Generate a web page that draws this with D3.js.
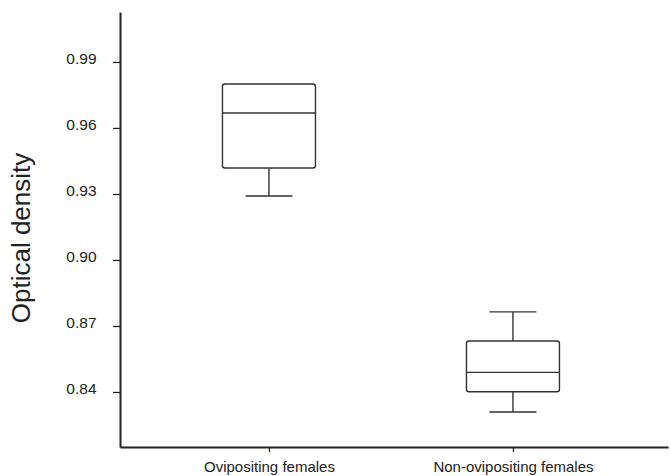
<!DOCTYPE html>
<html>
<head>
<meta charset="utf-8">
<script src="https://cdn.jsdelivr.net/npm/d3@7"></script>
<style>
  body { margin: 0; background: #fff; }
  svg { font-family: "Liberation Sans", Arial, sans-serif; }
</style>
</head>
<body>
<svg width="670" height="476"></svg>
<script>
// data
var groups = ["Ovipositing females", "Non-ovipositing females"];
var whiskerLow = [0.9291, 0.8309];
var q1 = [0.9418, 0.8401];
var medians = [0.9668, 0.8489];
var q3 = [0.9800, 0.8632];
var whiskerHigh = [0.9800, 0.8764];
var yTicks = [0.84, 0.87, 0.90, 0.93, 0.96, 0.99];

var svg = d3.select('svg');

var yScale = d3.scaleLinear()
    .domain([0.815, 1.0127])
    .range([447, 12]);

var xScale = d3.scalePoint()
    .domain(groups)
    .range([120, 668])
    .padding(0.623)
    .align(0.49);

var boxW = 93, capW = 47;

// y axis
var yAxis = d3.axisLeft(yScale)
    .tickValues(yTicks)
    .tickFormat(d3.format('.2f'))
    .tickSizeInner(7)
    .tickSizeOuter(0)
    .tickPadding(16.5);

var gy = svg.append('g')
    .attr('class', 'y axis')
    .attr('transform', 'translate(120,0)')
    .call(yAxis);
gy.select('.domain').attr('stroke', '#222').attr('stroke-width', 2);
gy.selectAll('.tick line').attr('stroke', '#222').attr('stroke-width', 1.3);
gy.selectAll('.tick text')
    .attr('font-size', 15.5)
    .attr('dy', '0.1em')
    .attr('fill', '#222')
    .attr('font-family', '"Liberation Sans", Arial, sans-serif');

// x axis
var xAxis = d3.axisBottom(xScale)
    .tickSizeInner(5)
    .tickSizeOuter(0)
    .tickPadding(9);

var gx = svg.append('g')
    .attr('class', 'x axis')
    .attr('transform', 'translate(0,447)')
    .call(xAxis);
gx.select('.domain').attr('stroke', '#222').attr('stroke-width', 2);
gx.selectAll('.tick line').attr('stroke', '#222').attr('stroke-width', 1.3);
gx.selectAll('.tick text')
    .attr('font-size', 15)
    .attr('fill', '#222')
    .attr('font-family', '"Liberation Sans", Arial, sans-serif');

svg.append('text')
    .attr('class', 'y label')
    .attr('transform', 'translate(30,238) rotate(270)')
    .attr('text-anchor', 'middle')
    .attr('font-size', 26)
    .attr('fill', '#222')
    .text('Optical density');

// boxes
var boxes = svg.selectAll('g.box')
    .data(groups)
    .enter()
    .append('g')
    .attr('class', 'box');

var stroke = '#333';

// whiskers
boxes.append('line')
    .attr('x1', function(d) { return xScale(d); })
    .attr('x2', function(d) { return xScale(d); })
    .attr('y1', function(d, i) { return yScale(whiskerHigh[i]); })
    .attr('y2', function(d, i) { return yScale(q3[i]); })
    .attr('stroke', stroke).attr('stroke-width', 1.4);
boxes.append('line')
    .attr('x1', function(d) { return xScale(d); })
    .attr('x2', function(d) { return xScale(d); })
    .attr('y1', function(d, i) { return yScale(q1[i]); })
    .attr('y2', function(d, i) { return yScale(whiskerLow[i]); })
    .attr('stroke', stroke).attr('stroke-width', 1.4);

// caps (skip when whisker equals box edge)
boxes.filter(function(d, i) { return whiskerHigh[i] > q3[i]; })
    .append('line')
    .attr('x1', function(d) { return xScale(d) - capW / 2; })
    .attr('x2', function(d) { return xScale(d) + capW / 2; })
    .attr('y1', function(d) { return yScale(whiskerHigh[groups.indexOf(d)]); })
    .attr('y2', function(d) { return yScale(whiskerHigh[groups.indexOf(d)]); })
    .attr('stroke', stroke).attr('stroke-width', 1.4);
boxes.append('line')
    .attr('x1', function(d) { return xScale(d) - capW / 2; })
    .attr('x2', function(d) { return xScale(d) + capW / 2; })
    .attr('y1', function(d, i) { return yScale(whiskerLow[i]); })
    .attr('y2', function(d, i) { return yScale(whiskerLow[i]); })
    .attr('stroke', stroke).attr('stroke-width', 1.4);

boxes.append('rect')
    .attr('x', function(d) { return xScale(d) - boxW / 2; })
    .attr('y', function(d, i) { return yScale(q3[i]); })
    .attr('width', boxW)
    .attr('height', function(d, i) { return yScale(q1[i]) - yScale(q3[i]); })
    .attr('rx', 2.5)
    .attr('fill', 'none')
    .attr('stroke', stroke).attr('stroke-width', 1.4);

boxes.append('line')
    .attr('x1', function(d) { return xScale(d) - boxW / 2; })
    .attr('x2', function(d) { return xScale(d) + boxW / 2; })
    .attr('y1', function(d, i) { return yScale(medians[i]); })
    .attr('y2', function(d, i) { return yScale(medians[i]); })
    .attr('stroke', stroke).attr('stroke-width', 1.4);
</script>
</body>
</html>
